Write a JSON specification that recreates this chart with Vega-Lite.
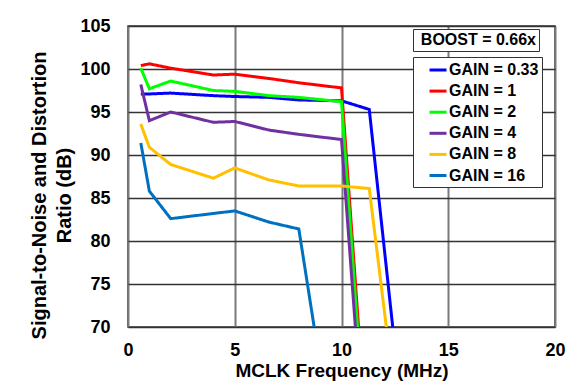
{
  "$schema": "https://vega.github.io/schema/vega-lite/v6.json",
  "width": 427,
  "height": 301,
  "autosize": {"type": "none"},
  "padding": {"left": 128, "top": 26, "right": 32, "bottom": 58},
  "background": "white",
  "config": {
    "font": "Liberation Sans",
    "view": {"stroke": "#333333", "strokeWidth": 1.5},
    "axis": {"labelFont": "Liberation Sans", "titleFont": "Liberation Sans", "labelColor": "black", "titleColor": "black"}
  },
  "data": {"values": [
    {"gain": "GAIN = 0.33", "f": 0.6, "snr": 97.1},
    {"gain": "GAIN = 0.33", "f": 1.0, "snr": 97.1},
    {"gain": "GAIN = 0.33", "f": 2.0, "snr": 97.2},
    {"gain": "GAIN = 0.33", "f": 4.0, "snr": 96.9},
    {"gain": "GAIN = 0.33", "f": 5.0, "snr": 96.8},
    {"gain": "GAIN = 0.33", "f": 6.6, "snr": 96.7},
    {"gain": "GAIN = 0.33", "f": 8.0, "snr": 96.4},
    {"gain": "GAIN = 0.33", "f": 10.0, "snr": 96.3},
    {"gain": "GAIN = 0.33", "f": 11.3, "snr": 95.3},
    {"gain": "GAIN = 0.33", "f": 12.4, "snr": 70},
    {"gain": "GAIN = 1", "f": 0.6, "snr": 100.4},
    {"gain": "GAIN = 1", "f": 1.0, "snr": 100.6},
    {"gain": "GAIN = 1", "f": 2.0, "snr": 100.1},
    {"gain": "GAIN = 1", "f": 4.0, "snr": 99.3},
    {"gain": "GAIN = 1", "f": 5.0, "snr": 99.4},
    {"gain": "GAIN = 1", "f": 6.6, "snr": 98.9},
    {"gain": "GAIN = 1", "f": 8.0, "snr": 98.4},
    {"gain": "GAIN = 1", "f": 10.0, "snr": 97.8},
    {"gain": "GAIN = 1", "f": 10.8, "snr": 70},
    {"gain": "GAIN = 2", "f": 0.6, "snr": 100.1},
    {"gain": "GAIN = 2", "f": 1.0, "snr": 97.7},
    {"gain": "GAIN = 2", "f": 2.0, "snr": 98.6},
    {"gain": "GAIN = 2", "f": 4.0, "snr": 97.5},
    {"gain": "GAIN = 2", "f": 5.0, "snr": 97.4},
    {"gain": "GAIN = 2", "f": 6.6, "snr": 96.9},
    {"gain": "GAIN = 2", "f": 8.0, "snr": 96.7},
    {"gain": "GAIN = 2", "f": 10.0, "snr": 96.2},
    {"gain": "GAIN = 2", "f": 10.75, "snr": 70},
    {"gain": "GAIN = 4", "f": 0.6, "snr": 98.2},
    {"gain": "GAIN = 4", "f": 1.0, "snr": 94.0},
    {"gain": "GAIN = 4", "f": 2.0, "snr": 95.0},
    {"gain": "GAIN = 4", "f": 4.0, "snr": 93.8},
    {"gain": "GAIN = 4", "f": 5.0, "snr": 93.9},
    {"gain": "GAIN = 4", "f": 6.6, "snr": 92.9},
    {"gain": "GAIN = 4", "f": 8.0, "snr": 92.4},
    {"gain": "GAIN = 4", "f": 10.0, "snr": 91.8},
    {"gain": "GAIN = 4", "f": 10.65, "snr": 70},
    {"gain": "GAIN = 8", "f": 0.6, "snr": 93.6},
    {"gain": "GAIN = 8", "f": 1.0, "snr": 90.9},
    {"gain": "GAIN = 8", "f": 2.0, "snr": 88.9},
    {"gain": "GAIN = 8", "f": 4.0, "snr": 87.3},
    {"gain": "GAIN = 8", "f": 5.0, "snr": 88.5},
    {"gain": "GAIN = 8", "f": 6.6, "snr": 87.1},
    {"gain": "GAIN = 8", "f": 8.0, "snr": 86.4},
    {"gain": "GAIN = 8", "f": 10.0, "snr": 86.4},
    {"gain": "GAIN = 8", "f": 11.3, "snr": 86.1},
    {"gain": "GAIN = 8", "f": 12.1, "snr": 70},
    {"gain": "GAIN = 16", "f": 0.6, "snr": 91.4},
    {"gain": "GAIN = 16", "f": 1.0, "snr": 85.8},
    {"gain": "GAIN = 16", "f": 2.0, "snr": 82.6},
    {"gain": "GAIN = 16", "f": 4.0, "snr": 83.2},
    {"gain": "GAIN = 16", "f": 5.0, "snr": 83.5},
    {"gain": "GAIN = 16", "f": 6.6, "snr": 82.2},
    {"gain": "GAIN = 16", "f": 8.0, "snr": 81.4},
    {"gain": "GAIN = 16", "f": 8.72, "snr": 70}
  ]},
  "mark": {"type": "line", "strokeWidth": 3, "clip": true},
  "encoding": {
    "x": {
      "field": "f", "type": "quantitative",
      "scale": {"domain": [0, 20], "nice": false},
      "axis": {
        "values": [0, 5, 10, 15, 20],
        "title": "MCLK Frequency (MHz)",
        "titleFontSize": 19, "titleFontWeight": "bold",
        "titleBaseline": "alphabetic", "titleY": 49,
        "labelFontSize": 18, "labelFontWeight": "bold",
        "labelPadding": 14, "labelFlush": false,
        "ticks": false, "tickSize": 0, "domain": false,
        "grid": true, "gridColor": "#7a7a7a", "gridWidth": 2
      }
    },
    "y": {
      "field": "snr", "type": "quantitative",
      "scale": {"domain": [70, 105], "nice": false},
      "axis": {
        "values": [70, 75, 80, 85, 90, 95, 100, 105],
        "title": ["Signal-to-Noise and Distortion", "Ratio (dB)"],
        "titleFontSize": 20, "titleFontWeight": "bold", "titleLineHeight": 25,
        "titleBaseline": "middle", "titleX": -89, "titleY": 169, "titleAngle": -90,
        "labelFontSize": 18, "labelFontWeight": "bold",
        "labelPadding": 18, "labelFlush": false,
        "ticks": false, "tickSize": 0, "domain": false,
        "grid": true, "gridColor": "#333333", "gridWidth": 1.5
      }
    },
    "color": {
      "field": "gain", "type": "nominal",
      "scale": {
        "domain": ["GAIN = 0.33", "GAIN = 1", "GAIN = 2", "GAIN = 4", "GAIN = 8", "GAIN = 16"],
        "range": ["#0000FF", "#FF0000", "#00FF00", "#7030A0", "#FFC000", "#0070C0"]
      },
      "legend": {
        "title": null, "orient": "none", "legendX": 285, "legendY": 31,
        "padding": 3, "strokeColor": "#333333", "fillColor": "white",
        "symbolType": "stroke", "symbolSize": 289, "symbolStrokeWidth": 3, "symbolOffset": 12,
        "labelFontSize": 16, "labelFontWeight": "bold", "labelColor": "black", "labelOffset": 1,
        "labelExpr": "datum.label + '\u00a0\u00a0\u00a0'",
        "rowPadding": 3.1
      }
    },
    "strokeDash": {
      "datum": "BOOST = 0.66x",
      "scale": {"range": [[1, 0]]},
      "legend": {
        "title": null, "orient": "none", "legendX": 285, "legendY": 3,
        "padding": 3, "strokeColor": "#333333", "fillColor": "white",
        "symbolSize": 0, "symbolOpacity": 0, "symbolStrokeWidth": 0, "symbolOffset": -13,
        "labelFontSize": 16, "labelFontWeight": "bold", "labelColor": "black",
        "labelAlign": "right", "labelOffset": 117
      }
    }
  }
}
